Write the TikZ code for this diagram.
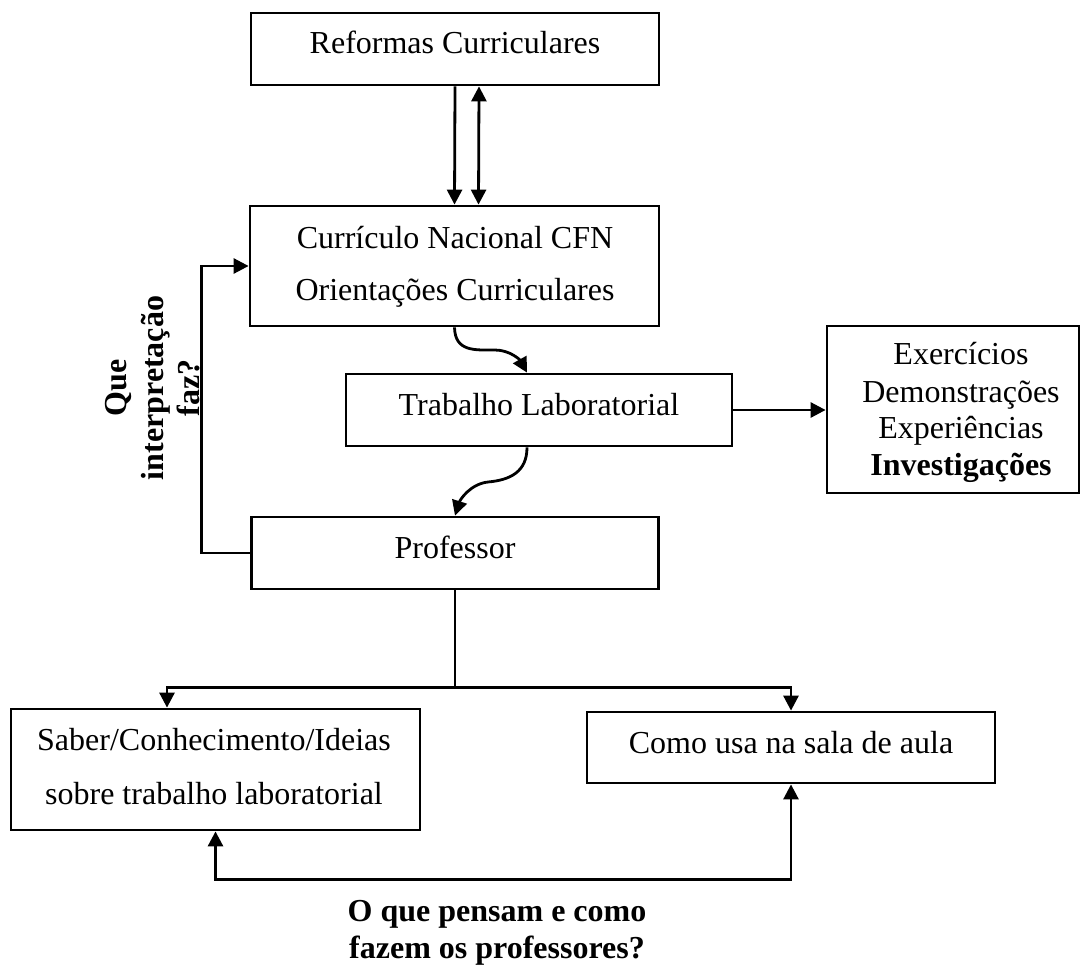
\documentclass[tikz,border=0pt]{standalone}
\usepackage{fontspec}
\setmainfont{Liberation Serif}
\usetikzlibrary{arrows.meta,calc}

\tikzset{
  box/.style={draw, line width=2.8pt, rectangle, inner sep=0pt, fill=white},
  txt/.style={anchor=base, inner sep=0pt, font=\fontsize{32}{37}\selectfont},
  btxt/.style={txt, font=\fontsize{32}{37}\selectfont\bfseries},
  conn/.style={line width=2.8pt},
  arr/.style={conn, -{Triangle[length=15pt,width=15pt]}},
  darr/.style={conn, {Triangle[length=15pt,width=15pt]}-{Triangle[length=15pt,width=15pt]}}
}

\begin{document}
\begin{tikzpicture}[x=1pt,y=-1pt]
\useasboundingbox (0,0) rectangle (1081,966);

% boxes
\node[box, minimum width=408pt, minimum height=72pt]  (reform) at (455,49) {};
\node[box, minimum width=409pt, minimum height=120pt] (curr)   at (454.5,266) {};
\node[box, minimum width=386pt, minimum height=72pt]  (trab)   at (539,410) {};
\node[box, minimum width=252pt, minimum height=167pt] (exer)   at (953,409.5) {};
\node[box, minimum width=407pt, minimum height=72pt]  (prof)   at (455,553) {};
\node[box, minimum width=409pt, minimum height=121pt] (saber)  at (215.5,769.5) {};
\node[box, minimum width=408pt, minimum height=71pt]  (como)   at (791,747.5) {};

% box texts
\node[txt] (t-reform) at (455,54) {Reformas Curriculares};
\node[txt] (t-curr1)  at (455,248) {Currículo Nacional CFN};
\node[txt] (t-curr2)  at (455,300) {Orientações Curriculares};
\node[txt] (t-trab)   at (539,415) {Trabalho Laboratorial};
\node[txt] (t-exer1)  at (961,364) {Exercícios};
\node[txt] (t-exer2)  at (961,402) {Demonstrações};
\node[txt] (t-exer3)  at (961,438) {Experiências};
\node[btxt] (t-exer4) at (961,475) {Investigações};
\node[txt] (t-prof)   at (455,558) {Professor};
\node[txt] (t-saber1) at (214,750) {Saber/Conhecimento/Ideias};
\node[txt] (t-saber2) at (214,804) {sobre trabalho laboratorial};
\node[txt] (t-como)   at (791,753) {Como usa na sala de aula};

% free labels
\node[font=\fontsize{32}{36.5}\selectfont\bfseries, align=center, rotate=90, inner sep=0pt]
  (interp) at (153,388) {Que\\interpretação\\faz?};
\node[btxt] (q1) at (497,921) {O que pensam e como};
\node[btxt] (q2) at (497,958) {fazem os professores?};

% connectors
\draw[arr]  (reform.south) -- (curr.north);
\draw[darr] ([xshift=24pt]reform.south) -- ([xshift=24pt]curr.north);

\draw[arr] (curr.south) .. controls (455,352) and (475,350) .. (495,350)
                       .. controls (510,350) and (520,360) .. ([xshift=-12pt]trab.north);

\draw[arr] (trab.east) -- (trab.east -| exer.west);

\draw[arr] ([xshift=-12pt]trab.south) .. controls (527,472) and (510,480) .. (488,482)
                                     .. controls (470,484) and (460,500) .. (prof.north);

\draw[arr] (prof.west) -- ++(-49,0) |- (curr.west);

\coordinate (split) at ($(prof.south)+(0,97)$);
\draw[conn] (prof.south) -- (split);
\draw[arr]  (split) -| ([xshift=-48.5pt]saber.north);
\draw[arr]  (split) -| (como.north);

\draw[darr] (saber.south) -- ++(0,48) -| (como.south);
\end{tikzpicture}
\end{document}
